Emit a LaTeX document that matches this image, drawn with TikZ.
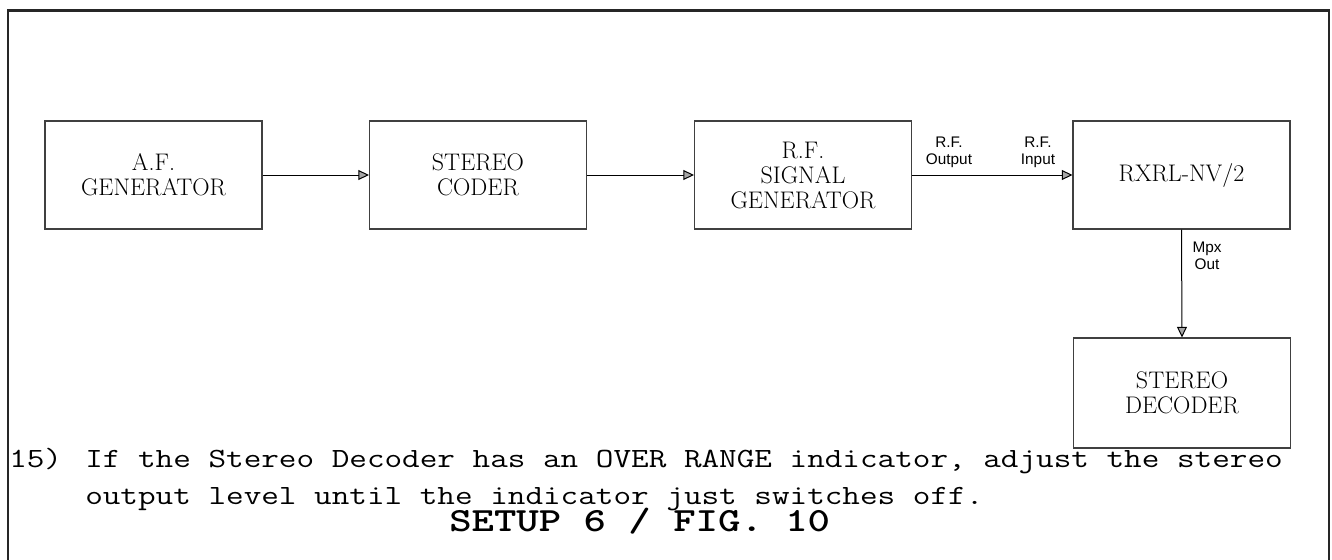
\documentclass[tikz,border=0pt]{standalone}
\usepackage{fontspec}
\newfontfamily\labelfont{Liberation Sans}
\usetikzlibrary{arrows.meta}
\newcommand{\bodymono}{\ttfamily\fontsize{20.85}{27}\selectfont}
\newcommand{\titlemono}{\ttfamily\bfseries\fontsize{25.4}{30}\selectfont}
\newcommand{\wideA}[1]{\scalebox{1.23}[1]{#1}}
\newcommand{\wideB}[1]{\scalebox{1.26}[1]{#1}}
\begin{document}
\begin{tikzpicture}[x=0.75pt,y=-0.75pt,
  blockbox/.style={draw=black!75,line width=0.8pt,minimum width=162.75pt,minimum height=81pt,
    inner sep=0pt,align=center,font=\fontsize{18}{18.75}\selectfont},
  conn/.style={draw=black,line width=0.75pt,-{Triangle[length=8pt,width=7.5pt,fill=gray!70]}},
  smalllabel/.style={align=center,inner sep=0pt,font=\labelfont\fontsize{11.5}{12.75}\selectfont},
  bodytext/.style={anchor=base west,inner sep=0pt,font=\bodymono}
]
\useasboundingbox (0,0) rectangle (1332,560);
\begin{scope}
\clip (0,0) rectangle (1332,560);
\draw[black!85,line width=1.9pt] (8,10.5) rectangle (1329,620);
\end{scope}

\node[blockbox] (af) at (153.5,175) {A.F.\\GENERATOR};
\node[blockbox] (coder) at (478,175) {STEREO\\CODER};
\node[blockbox] (rf) at (803,175) {R.F.\\SIGNAL\\GENERATOR};
\node[blockbox] (rx) at (1181.5,175) {RXRL-NV/2};
\node[blockbox,minimum height=82.5pt] (dec) at (1182,393) {STEREO\\DECODER};

\draw[conn] (af.east) -- (coder.west);
\draw[conn] (coder.east) -- (rf.west);
\draw[conn] (rf.east) -- (rx.west);
\draw[conn] (rx.south) -- (dec.north);

\node[smalllabel,anchor=base] (rfout) at (949,164) {R.F.\\Output};
\node[smalllabel,anchor=base] (rfin) at (1038,164) {R.F.\\Input};
\node[smalllabel,anchor=base] (mpx) at (1207,269) {Mpx\\Out};

\node[bodytext] (num) at (9,467) {\wideA{15)}};
\node[bodytext] (l1) at (85,467) {\wideA{If the Stereo Decoder has an OVER RANGE indicator, adjust the stereo}};
\node[bodytext] (l2) at (85,504) {\wideA{output level until the indicator just switches off.}};
\node[anchor=base west,inner sep=0pt,font=\titlemono] (title) at (449,531) {\wideB{SETUP 6 / FIG. 10}};
\end{tikzpicture}
\end{document}
